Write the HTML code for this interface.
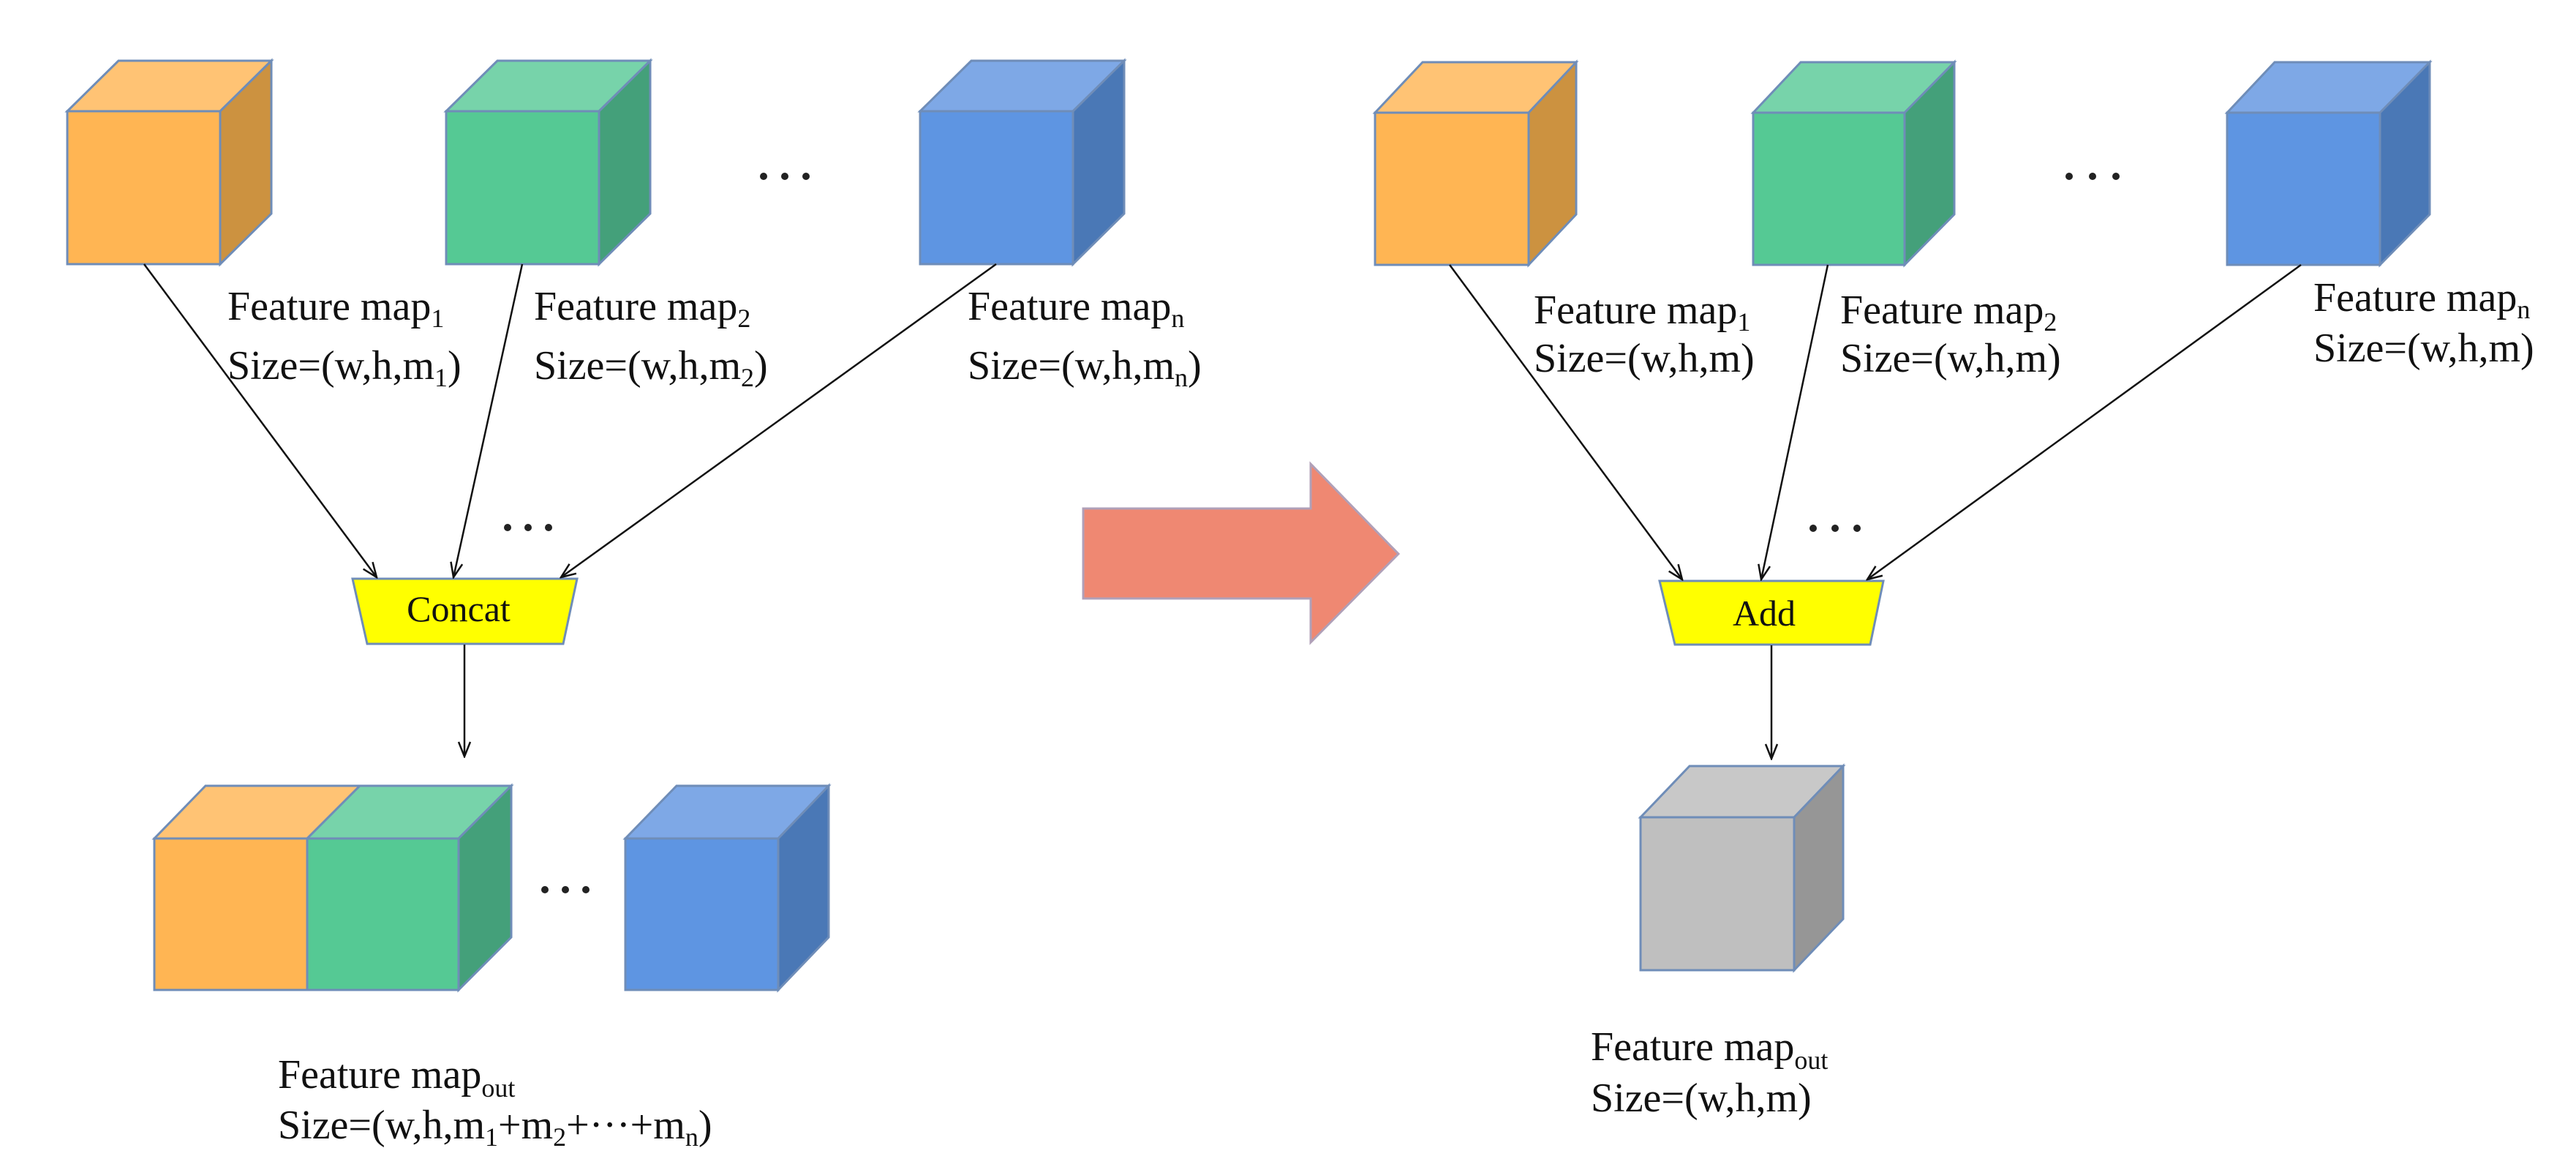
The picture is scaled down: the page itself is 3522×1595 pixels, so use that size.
<!DOCTYPE html>
<html><head><meta charset="utf-8"><style>
html,body{margin:0;padding:0;background:#fff;}
svg{display:block;}
text{font-family:"Liberation Serif","Times New Roman","DejaVu Serif",serif;fill:#111;}
</style></head><body>
<svg width="3522" height="1595" viewBox="0 0 3522 1595" xmlns="http://www.w3.org/2000/svg">
<defs>
<marker id="ah" markerWidth="24" markerHeight="24" refX="22" refY="12" orient="auto" markerUnits="userSpaceOnUse">
<polyline points="2,4 22,12 2,20" fill="none" stroke="#111" stroke-width="2.5"/>
</marker>
</defs>
<g stroke="#6F8DB8" stroke-width="3" stroke-linejoin="miter">
<polygon points="92,152 162,83 371,83 301,152" fill="#FFC374"/>
<polygon points="301,152 371,83 371,292 301,361" fill="#CC9240"/>
<rect x="92" y="152" width="209" height="209" fill="#FFB553"/>

<polygon points="610,152 680,83 889,83 819,152" fill="#77D3AA"/>
<polygon points="819,152 889,83 889,292 819,361" fill="#44A07A"/>
<rect x="610" y="152" width="209" height="209" fill="#55C994"/>

<polygon points="1258,152 1328,83 1537,83 1467,152" fill="#7EA8E6"/>
<polygon points="1467,152 1537,83 1537,292 1467,361" fill="#4A78B6"/>
<rect x="1258" y="152" width="209" height="209" fill="#5E95E2"/>

<polygon points="211,1146 281,1074 492,1074 420,1146" fill="#FFC374"/>
<polygon points="420,1146 492,1074 699,1074 627,1146" fill="#77D3AA"/>
<polygon points="627,1146 699,1074 699,1281 627,1353" fill="#44A07A"/>
<rect x="211" y="1146" width="209" height="207" fill="#FFB553"/>
<rect x="420" y="1146" width="207" height="207" fill="#55C994"/>

<polygon points="855,1146 925,1074 1133,1074 1064,1146" fill="#7EA8E6"/>
<polygon points="1064,1146 1133,1074 1133,1281 1064,1353" fill="#4A78B6"/>
<rect x="855" y="1146" width="209" height="207" fill="#5E95E2"/>

<polygon points="1880,154 1945,85 2155,85 2090,154" fill="#FFC374"/>
<polygon points="2090,154 2155,85 2155,293 2090,362" fill="#CC9240"/>
<rect x="1880" y="154" width="210" height="208" fill="#FFB553"/>

<polygon points="2397,154 2462,85 2672,85 2604,154" fill="#77D3AA"/>
<polygon points="2604,154 2672,85 2672,293 2604,362" fill="#44A07A"/>
<rect x="2397" y="154" width="207" height="208" fill="#55C994"/>

<polygon points="3045,154 3110,85 3322,85 3254,154" fill="#7EA8E6"/>
<polygon points="3254,154 3322,85 3322,293 3254,362" fill="#4A78B6"/>
<rect x="3045" y="154" width="209" height="208" fill="#5E95E2"/>

<polygon points="2243,1117 2310,1047 2520,1047 2453,1117" fill="#C8C8C8"/>
<polygon points="2453,1117 2520,1047 2520,1256 2453,1326" fill="#969696"/>
<rect x="2243" y="1117" width="210" height="209" fill="#BFBFBF"/>

<polygon points="482,791 789,791 770,880 502,880" fill="#FFFF00"/>
<polygon points="2269,794 2575,794 2557,881 2290,881" fill="#FFFF00"/>

<polygon points="1481,695 1792,695 1792,634 1912,757 1792,878 1792,818 1481,818" fill="#EF8872" stroke="#B0A0B8"/>
</g>

<g stroke="#111" stroke-width="2.5" fill="none">
<line x1="197" y1="361" x2="515" y2="789" marker-end="url(#ah)"/>
<line x1="714" y1="361" x2="620" y2="789" marker-end="url(#ah)"/>
<line x1="1362" y1="361" x2="767" y2="789" marker-end="url(#ah)"/>
<line x1="635" y1="881" x2="635" y2="1034" marker-end="url(#ah)"/>
<line x1="1982" y1="362" x2="2300" y2="792" marker-end="url(#ah)"/>
<line x1="2499" y1="362" x2="2408" y2="792" marker-end="url(#ah)"/>
<line x1="3146" y1="362" x2="2553" y2="792" marker-end="url(#ah)"/>
<line x1="2422" y1="882" x2="2422" y2="1037" marker-end="url(#ah)"/>
</g>

<g fill="#222">
<circle cx="1044" cy="241" r="5"/><circle cx="1073" cy="241" r="5"/><circle cx="1102" cy="241" r="5"/>
<circle cx="694" cy="721" r="5"/><circle cx="722" cy="721" r="5"/><circle cx="750" cy="721" r="5"/>
<circle cx="745" cy="1216" r="5"/><circle cx="773" cy="1216" r="5"/><circle cx="801" cy="1216" r="5"/>
<circle cx="2829" cy="241" r="5"/><circle cx="2861" cy="241" r="5"/><circle cx="2893" cy="241" r="5"/>
<circle cx="2479" cy="722" r="5"/><circle cx="2509" cy="722" r="5"/><circle cx="2539" cy="722" r="5"/>
</g>

<g font-size="56" font-family="Liberation Serif, Times New Roman, DejaVu Serif, serif">
<text x="311" y="437">Feature map<tspan font-size="36" dy="10">1</tspan></text>
<text x="311" y="518">Size=(w,h,m<tspan font-size="36" dy="10">1</tspan><tspan dy="-10">)</tspan></text>
<text x="730" y="437">Feature map<tspan font-size="36" dy="10">2</tspan></text>
<text x="730" y="518">Size=(w,h,m<tspan font-size="36" dy="10">2</tspan><tspan dy="-10">)</tspan></text>
<text x="1323" y="437">Feature map<tspan font-size="36" dy="10">n</tspan></text>
<text x="1323" y="518">Size=(w,h,m<tspan font-size="36" dy="10">n</tspan><tspan dy="-10">)</tspan></text>

<text x="380" y="1487">Feature map<tspan font-size="36" dy="12">out</tspan></text>
<text x="380" y="1556">Size=(w,h,m<tspan font-size="36" dy="10">1</tspan><tspan dy="-10">+m</tspan><tspan font-size="36" dy="10">2</tspan><tspan dy="-10">+···+m</tspan><tspan font-size="36" dy="10">n</tspan><tspan dy="-10">)</tspan></text>

<text x="2097" y="442">Feature map<tspan font-size="36" dy="10">1</tspan></text>
<text x="2097" y="508">Size=(w,h,m)</text>
<text x="2516" y="442">Feature map<tspan font-size="36" dy="10">2</tspan></text>
<text x="2516" y="508">Size=(w,h,m)</text>
<text x="3163" y="425">Feature map<tspan font-size="36" dy="10">n</tspan></text>
<text x="3163" y="494">Size=(w,h,m)</text>

<text x="2175" y="1449">Feature map<tspan font-size="36" dy="12">out</tspan></text>
<text x="2175" y="1519">Size=(w,h,m)</text>
<text x="627" y="849" font-size="50" text-anchor="middle">Concat</text>
<text x="2412" y="855" font-size="50" text-anchor="middle">Add</text>
</g>
</svg>
</body></html>
